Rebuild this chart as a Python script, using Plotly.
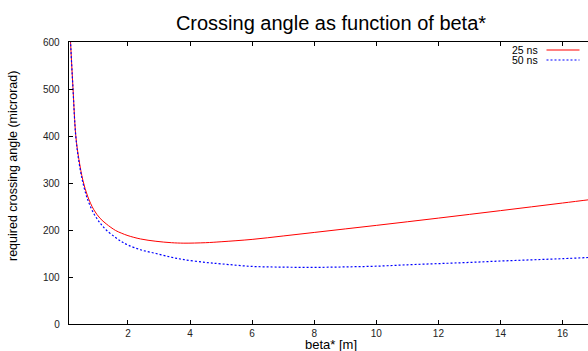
import plotly.graph_objects as go

# beta* values [m]
beta_star = [0.1, 0.15, 0.23, 0.32, 0.42, 0.55, 0.7, 0.9, 1.1, 1.3, 1.6, 1.8, 2.0,
             2.4, 2.9, 3.4, 3.8, 4.5, 5.0, 6.0, 7.0, 8.0, 9.0, 10.0, 11.0, 12.0,
             13.0, 14.0, 15.0, 16.0, 17.0]

# required crossing angle (microrad)
angle_25ns = [680, 600, 500, 400, 350, 305, 272, 243, 225, 213, 199, 193, 188,
              181, 176, 173, 172, 173, 175, 180, 187.3, 194.8, 202.3, 209.8, 217.5,
              225.3, 233.2, 241.2, 249.3, 257.4, 265.6]
angle_50ns = [680, 600, 498, 398, 345, 300, 265, 235, 215, 200, 184, 175, 168,
              158, 150, 142, 137, 131, 128, 122.5, 121, 120.5, 121.5, 123, 126,
              128.5, 131, 134, 136.5, 139, 142]

series_names = ["25 ns", "50 ns"]
x_ticks = [2, 4, 6, 8, 10, 12, 14, 16]
y_ticks = [0, 100, 200, 300, 400, 500, 600]

W, H = 588, 351
L, R, T, B = 69, 0, 42, 27
pw, ph = W - L - R, H - T - B

def px2x(px):
    return (px - L) / pw

def py2y(py):
    return (H - B - py) / ph

FONT = "Liberation Sans, Arial, Helvetica, sans-serif"

fig = go.Figure()
fig.add_trace(go.Scatter(x=beta_star, y=angle_25ns, mode="lines", name=series_names[0],
                         line=dict(color="#ff0000", width=1, shape="spline"),
                         showlegend=False, hoverinfo="skip"))
fig.add_trace(go.Scatter(x=beta_star, y=angle_50ns, mode="lines", name=series_names[1],
                         line=dict(color="#0000ff", width=1.2, dash="2px,2px", shape="spline"),
                         showlegend=False, hoverinfo="skip"))

axis_common = dict(showgrid=False, zeroline=False, showline=True, linecolor="#000000",
                   linewidth=1.3, ticks="inside", ticklen=4, tickcolor="#000000",
                   tickfont=dict(family=FONT, size=10, color="#222222"))

fig.update_xaxes(range=[0.1, 16.82], tickvals=x_ticks, mirror="ticks", **axis_common)
fig.update_yaxes(range=[0, 600], tickvals=y_ticks, mirror=False, ticklabelstandoff=6,
                 **axis_common)

annotations = [
    dict(text="required crossing angle (microrad)", textangle=-90,
         x=px2x(13), y=py2y(166), xref="paper", yref="paper",
         showarrow=False, xanchor="center", yanchor="middle",
         font=dict(family=FONT, size=12.5, color="#000000")),
    dict(text="beta* [m]", x=px2x(331), y=py2y(344), xref="paper", yref="paper",
         showarrow=False, xanchor="center", yanchor="middle",
         font=dict(family=FONT, size=13, color="#000000")),
    dict(text=series_names[0], x=px2x(540), y=py2y(50), xref="paper", yref="paper",
         showarrow=False, xanchor="right", yanchor="middle",
         font=dict(family=FONT, size=10.5, color="#000000")),
    dict(text=series_names[1], x=px2x(540), y=py2y(60), xref="paper", yref="paper",
         showarrow=False, xanchor="right", yanchor="middle",
         font=dict(family=FONT, size=10.5, color="#000000")),
]

shapes = [
    dict(type="line", xref="paper", yref="paper", x0=px2x(546.5), x1=px2x(579.5),
         y0=py2y(50), y1=py2y(50), line=dict(color="#ff0000", width=1.2)),
    dict(type="line", xref="paper", yref="paper", x0=px2x(546.5), x1=px2x(579.5),
         y0=py2y(60), y1=py2y(60), line=dict(color="#0000ff", width=1.2, dash="2px,2px")),
]

fig.update_layout(
    width=W, height=H,
    margin=dict(l=L, r=R, t=T, b=B, pad=0),
    paper_bgcolor="white", plot_bgcolor="white",
    title=dict(text="Crossing angle as function of beta*", x=px2x(331), xref="paper",
               xanchor="center", y=1 - 23 / H, yref="container", yanchor="middle",
               font=dict(family=FONT, size=20, color="#000000")),
    annotations=annotations, shapes=shapes,
    showlegend=False, hovermode=False, dragmode=False,
)

fig.write_html(
    "out.html",
    config={"displayModeBar": False, "staticPlot": True},
    post_script="document.body.style.margin='0';document.body.style.padding='0';"
                "document.documentElement.style.overflow='hidden';",
)
